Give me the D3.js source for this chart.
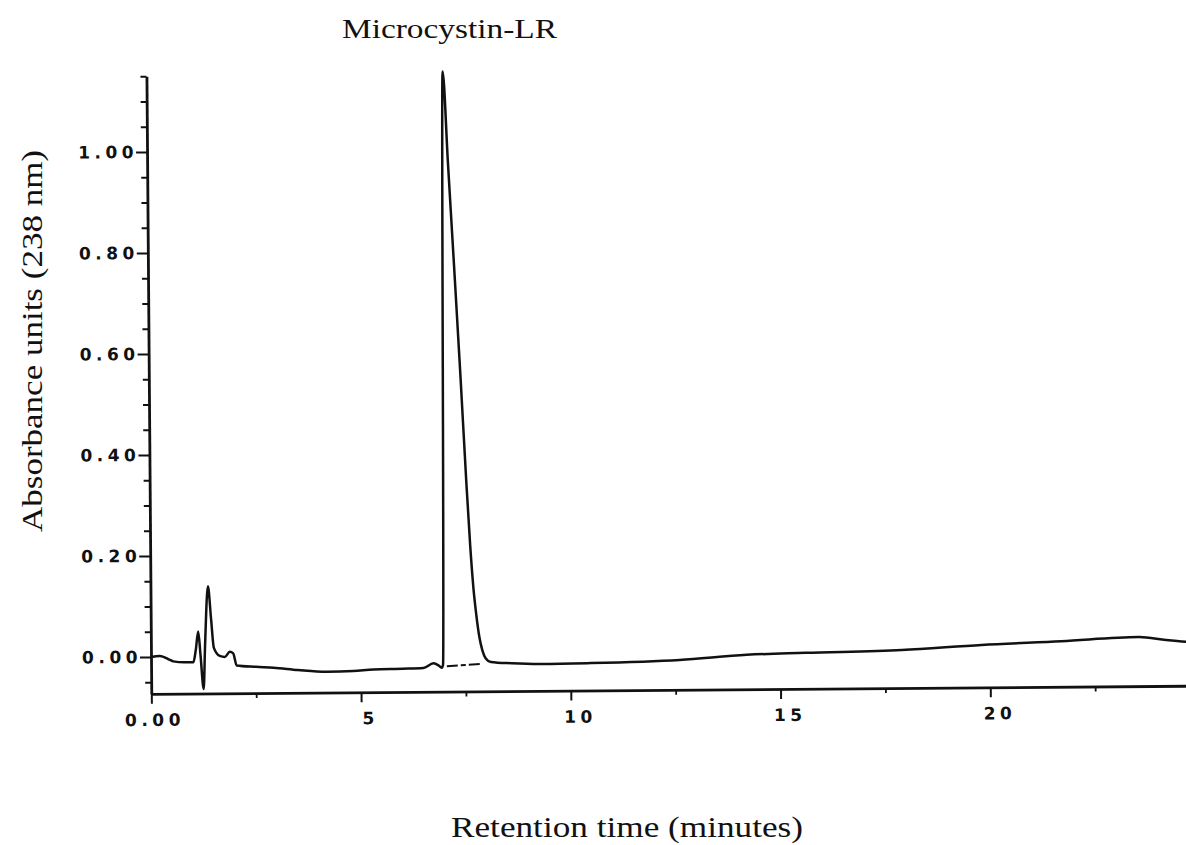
<!DOCTYPE html>
<html>
<head>
<meta charset="utf-8">
<script src="https://cdn.jsdelivr.net/npm/d3@7"></script>
<style>
  html, body { margin: 0; padding: 0; background: #fff; }
  svg { display: block; }
  .tick text { font-family: "DejaVu Sans", sans-serif; font-weight: bold; font-size: 17px; letter-spacing: 4.5px; fill: #111; }
  .title { font-family: "Liberation Serif", "Times New Roman", serif; fill: #111; }
</style>
</head>
<body>
<script>
// HPLC chromatogram of microcystin-LR, absorbance at 238 nm
const retentionTime = [
  0.00, 0.21, 0.45, 0.53, 0.80, 1.01, 1.07, 1.13, 1.18, 1.25, 1.29, 1.37, 1.44, 1.50,
  1.64, 1.76, 1.88, 1.96, 2.04, 2.50, 2.92, 3.50, 4.19, 4.82, 5.30, 6.00, 6.49, 6.73,
  6.85, 6.93, 6.96, 7.06, 7.17, 7.30, 7.43, 7.55, 7.63, 7.70, 7.76, 7.83, 7.90, 7.98,
  8.10, 8.60, 9.30, 10.40, 12.60, 14.20, 15.60, 17.90, 19.80, 21.70, 23.55, 24.20, 24.70, 25.00
];
const absorbance = [
  0.000, 0.002, -0.006, -0.009, -0.011, -0.011, 0.014, 0.050, 0.004, -0.064, 0.020, 0.139, 0.073, 0.017,
  0.001, -0.001, 0.009, 0.006, -0.018, -0.021, -0.023, -0.028, -0.032, -0.031, -0.028, -0.027, -0.026, -0.017,
  -0.021, -0.026, -0.020, 1.155, 0.975, 0.765, 0.550, 0.340, 0.215, 0.130, 0.080, 0.035, 0.008, -0.008,
  -0.015, -0.018, -0.020, -0.019, -0.014, -0.005, -0.002, 0.002, 0.011, 0.017, 0.024, 0.018, 0.014, 0.012
];

// integration baseline drawn under the main peak
const peakBaseTime = [7.05, 7.85];
const peakBaseAbs = [-0.023, -0.019];

const xMajorTicks = [0, 5, 10, 15, 20];
const xMinorTicks = [2.5, 7.5, 12.5, 17.5, 22.5];
const xTickLabels = ["0.00", "5", "10", "15", "20"];
const yMajorTicks = [0.0, 0.2, 0.4, 0.6, 0.8, 1.0];
const yMinorTicks = [-0.05, 0.05, 0.10, 0.15, 0.25, 0.30, 0.35, 0.45, 0.50, 0.55, 0.65, 0.70, 0.75, 0.85, 0.90, 0.95, 1.05, 1.10, 1.15];
const yTickLabels = ["0.00", "0.20", "0.40", "0.60", "0.80", "1.00"];

const W = 1186, H = 845;
const svg = d3.select("body").append("svg").attr("width", W).attr("height", H);
svg.append("rect").attr("width", W).attr("height", H).attr("fill", "#fff");

const xDomain = [0, 25];
const yDomain = [-0.073, 1.15];
const x = d3.scaleLinear().domain(xDomain).range([151, 151 + 41.95 * 25]);
const y = d3.scaleLinear().domain(yDomain).range([657 + 0.073 * 505, 657 - 1.15 * 505]);

// the plotted sheet sits very slightly rotated
const plot = svg.append("g").attr("transform", `rotate(-0.45, ${x(0)}, ${y(0)})`);

// x axis (bottom) with major and minor ticks
const xAxis = d3.axisBottom(x).tickValues(xMajorTicks).tickSize(10).tickSizeOuter(0)
  .tickPadding(6).tickFormat((d, i) => xTickLabels[i]);
const gx = plot.append("g").attr("transform", `translate(0,${y(yDomain[0])})`).call(xAxis);
gx.select(".domain").attr("stroke", "#111").attr("stroke-width", 2.8);
gx.selectAll(".tick line").attr("stroke", "#111").attr("stroke-width", 2);
gx.selectAll(".tick text").attr("dx", (d, i) => i === 0 ? "3px" : "9px").attr("dy", "0.95em");

const xMinor = d3.axisBottom(x).tickValues(xMinorTicks).tickSize(5).tickFormat("");
const gxm = plot.append("g").attr("transform", `translate(0,${y(yDomain[0])})`).call(xMinor);
gxm.select(".domain").remove();
gxm.selectAll(".tick line").attr("stroke", "#111").attr("stroke-width", 1.8);

// y axis (left) with major and minor ticks
const yAxis = d3.axisLeft(y).tickValues(yMajorTicks).tickSize(11).tickSizeOuter(0)
  .tickPadding(-2).tickFormat((d, i) => yTickLabels[i]);
const gy = plot.append("g").attr("transform", `translate(${x(0)},0)`).call(yAxis);
gy.select(".domain").attr("stroke", "#111").attr("stroke-width", 2.8);
gy.selectAll(".tick line").attr("stroke", "#111").attr("stroke-width", 2);

const yMinor = d3.axisLeft(y).tickValues(yMinorTicks).tickSize(6).tickFormat("");
const gym = plot.append("g").attr("transform", `translate(${x(0)},0)`).call(yMinor);
gym.select(".domain").remove();
gym.selectAll(".tick line").attr("stroke", "#111").attr("stroke-width", 2);

// chromatogram trace
const trace = retentionTime.map((t, i) => [t, absorbance[i]]);
const line = d3.line().x(d => x(d[0])).y(d => y(d[1])).curve(d3.curveMonotoneX);
plot.append("path").datum(trace).attr("d", line)
  .attr("fill", "none").attr("stroke", "#111").attr("stroke-width", 2.5)
  .attr("stroke-linejoin", "round");

// dashed peak baseline
const base = peakBaseTime.map((t, i) => [t, peakBaseAbs[i]]);
plot.append("path").datum(base).attr("d", d3.line().x(d => x(d[0])).y(d => y(d[1])))
  .attr("fill", "none").attr("stroke", "#111").attr("stroke-width", 2)
  .attr("stroke-dasharray", "11,3,5,3");

// titles
svg.append("text").attr("class", "title")
  .attr("x", 342).attr("y", 38).attr("font-size", 28)
  .attr("textLength", 215).attr("lengthAdjust", "spacingAndGlyphs")
  .text("Microcystin-LR");

svg.append("text").attr("class", "title")
  .attr("transform", "translate(42,341) rotate(-90)")
  .attr("text-anchor", "middle").attr("font-size", 29)
  .attr("textLength", 382).attr("lengthAdjust", "spacingAndGlyphs")
  .text("Absorbance units (238 nm)");

svg.append("text").attr("class", "title")
  .attr("x", 627).attr("y", 837).attr("text-anchor", "middle").attr("font-size", 29)
  .attr("textLength", 352).attr("lengthAdjust", "spacingAndGlyphs")
  .text("Retention time (minutes)");
</script>
</body>
</html>
